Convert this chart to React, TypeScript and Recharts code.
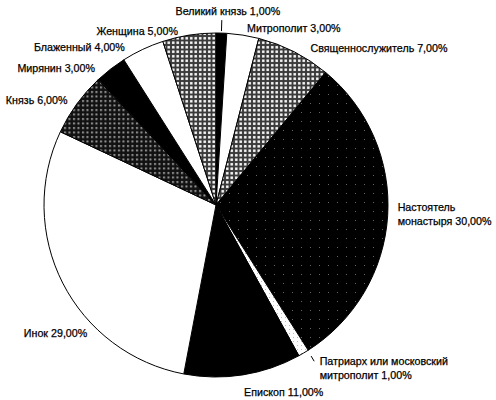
import React from 'react';
import { PieChart, Pie, Cell } from 'recharts';

// категории по часовой стрелке, начиная с 12 часов
const CATEGORIES = [
  'Великий князь',
  'Митрополит',
  'Священнослужитель',
  'Настоятель\nмонастыря',
  'Патриарх или московский\nмитрополит',
  'Епископ',
  'Инок',
  'Князь',
  'Мирянин',
  'Блаженный',
  'Женщина',
];
const SHARES = [1, 3, 7, 30, 1, 11, 29, 6, 3, 4, 5];
const FILLS = [
  '#000',
  '#fff',
  'url(#check)',
  'url(#darkDots)',
  'url(#lightDots)',
  '#000',
  '#fff',
  'url(#knyaz)',
  '#000',
  '#fff',
  'url(#check)',
];

const data = CATEGORIES.map((name, i) => ({ name, value: SHARES[i] }));

// подгонка подписей (dx, dy) относительно точки на r + 14
const LABEL_NUDGE: Record<number, [number, number]> = {
  0: [6, -8],
  1: [2, 7],
  2: [10, 9],
  3: [-4, -10],
  4: [9, -4],
  5: [-1, 3],
  6: [37, 44],
  7: [2, 4],
  8: [-7, 10],
  9: [-12, 10],
  10: [-9, 10],
};
const LEADER = [0, 4];

const RAD = Math.PI / 180;
const polar = (cx: number, cy: number, r: number, a: number) => ({
  x: cx + r * Math.cos(-a * RAD),
  y: cy + r * Math.sin(-a * RAD),
});

const fmt = (v: number) => v.toFixed(2).replace('.', ',') + '%';

const renderLabel = (props: any) => {
  const { cx, cy, midAngle, outerRadius, index, name, value } = props;
  const p = polar(cx, cy, outerRadius + 14, midAngle);
  const [dx, dy] = LABEL_NUDGE[index] || [0, 0];
  const cos = Math.cos(midAngle * RAD);
  const anchor = index === 0 ? 'middle' : cos >= 0 ? 'start' : 'end';
  const lines = (name as string).split('\n');
  lines[lines.length - 1] += ' ' + fmt(value);
  const x = p.x + dx;
  const y = p.y + dy;
  let leader = null;
  if (LEADER.includes(index)) {
    const a = polar(cx, cy, outerRadius + (index === 0 ? 2 : 7), midAngle);
    const b = polar(cx, cy, outerRadius + 13, midAngle);
    const sx = index === 0 ? 0 : 4;
    const sy = index === 0 ? 0 : -3;
    leader = (
      <line x1={a.x + sx} y1={a.y + sy} x2={b.x + sx} y2={b.y + sy} stroke="#000" strokeWidth={1} />
    );
  }
  return (
    <g key={`lbl-${index}`}>
      {leader}
      <text
        x={x}
        y={y}
        textAnchor={anchor}
        dominantBaseline="central"
        fontFamily="'Liberation Sans', Arial, sans-serif"
        fontSize={10.7}
        fill="#000"
        stroke="#000"
        strokeWidth={0.25}
      >
        {lines.map((ln, i) => (
          <tspan key={i} x={x} dy={i === 0 ? 0 : 14}>
            {ln}
          </tspan>
        ))}
      </text>
    </g>
  );
};

export default function App() {
  return (
    <div style={{ position: 'fixed', left: 0, top: 0, width: 496, height: 400, background: '#fff' }}>
      <PieChart width={496} height={400} margin={{ top: 0, right: 0, bottom: 0, left: 0 }}>
        <defs>
          <pattern id="check" width="4.5" height="4.5" patternUnits="userSpaceOnUse">
            <rect width="4.5" height="4.5" fill="#3a3a3a" />
            <rect x="1" y="1" width="2.5" height="2.5" fill="#fff" />
          </pattern>
          <pattern id="knyaz" width="4.5" height="4.5" patternUnits="userSpaceOnUse">
            <rect width="4.5" height="4.5" fill="#111" />
            <rect x="1" y="1" width="2" height="2" fill="#999" />
          </pattern>
          <pattern id="darkDots" width="9" height="9" patternUnits="userSpaceOnUse">
            <rect width="9" height="9" fill="#000" />
            <rect x="4" y="4" width="1" height="1" fill="#666" />
          </pattern>
          <pattern id="lightDots" width="4" height="4" patternUnits="userSpaceOnUse">
            <rect width="4" height="4" fill="#fff" />
            <rect x="1" y="1" width="1" height="1" fill="#bbb" />
          </pattern>
        </defs>
        <Pie
          data={data}
          dataKey="value"
          nameKey="name"
          cx={216}
          cy={205}
          outerRadius={172}
          startAngle={90}
          endAngle={-270}
          stroke="#000"
          strokeWidth={1}
          label={renderLabel}
          labelLine={false}
          isAnimationActive={false}
        >
          {data.map((d, i) => (
            <Cell key={d.name} fill={FILLS[i]} />
          ))}
        </Pie>
      </PieChart>
    </div>
  );
}
